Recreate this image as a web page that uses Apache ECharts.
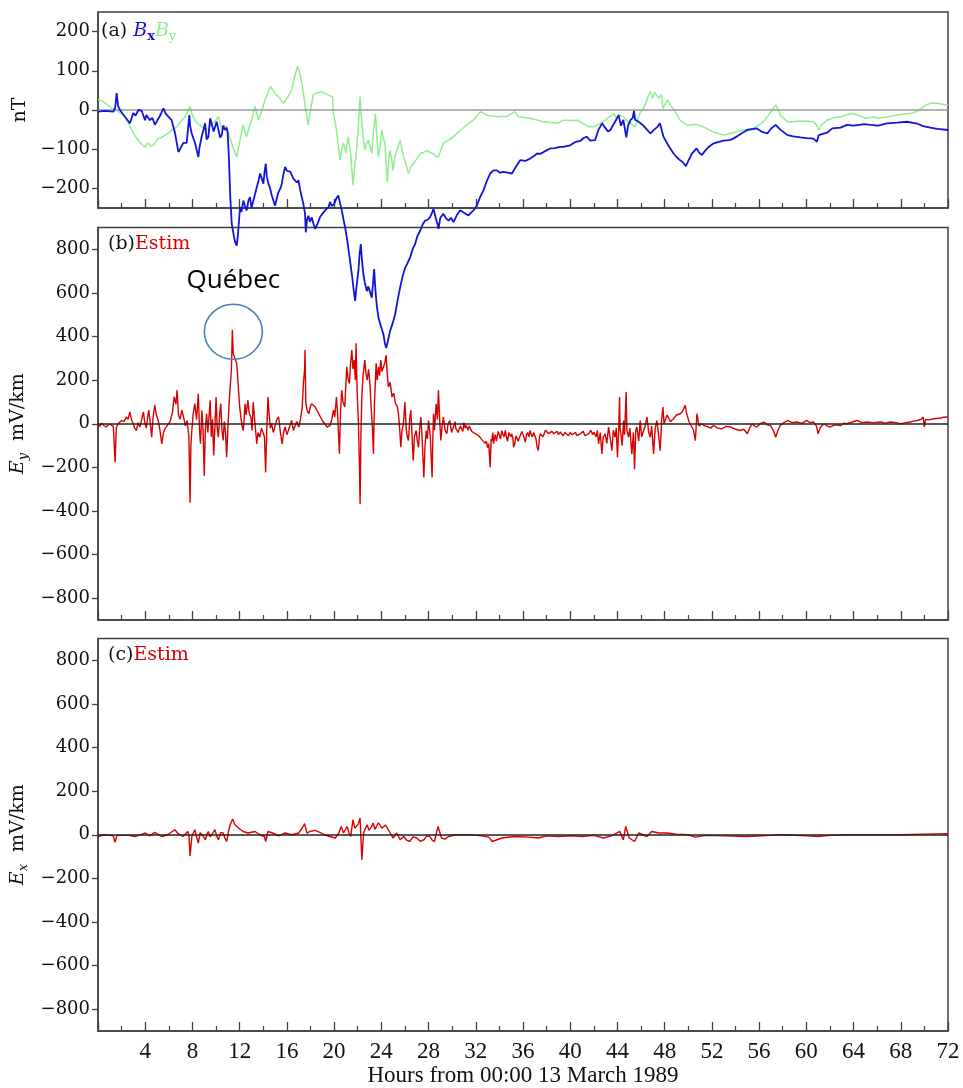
<!DOCTYPE html>
<html>
<head>
<meta charset="utf-8">
<title>Bx, By and estimated geoelectric field, 13-15 March 1989</title>
<script src="https://cdn.jsdelivr.net/npm/echarts@6/dist/echarts.min.js"></script>
<style>
  html, body { margin: 0; padding: 0; background: #ffffff; }
  #chart { width: 963px; height: 1088px; }
</style>
</head>
<body>
<div id="chart"></div>
<script>
// Hours from 00:00 13 March 1989, with the x axis ticked every 4 h and minor ticks every 2 h
const hourRange = [0, 72];
const fieldTicks = [-200, -100, 0, 100, 200];
const efieldTicks = [-800, -600, -400, -200, 0, 200, 400, 600, 800];

// (a) magnetic field components, nT  [hour, value]
const bxField = [
  [0,-4],[0.6,-2],[1.3,-4],[1.45,5],[1.58,43],[1.7,10],[1.86,0],[2.2,-14],[2.7,-34],[2.99,-8],[3.2,-14],[3.42,0],[3.7,-2],[3.98,-26],[4.1,-13],[4.4,-26],[4.6,-20],[4.83,-38],[5.05,-25],[5.25,-15],[5.54,4],[5.75,-10],[5.96,-17],[6.24,-26],[6.53,-60],[6.81,-107],[6.95,-100],[7.23,-84],[7.51,-84],[7.74,-13],[7.8,-40],[7.94,-60],[8.22,-84],[8.5,-120],[8.6,-95],[8.78,-68],[8.93,-51],[9.07,-34],[9.2,-75],[9.35,-68],[9.5,-21],[9.63,-26],[9.8,-55],[9.92,-60],[10.05,-30],[10.2,-34],[10.35,-70],[10.48,-64],[10.6,-40],[10.76,-51],[10.9,-45],[10.99,-60],
  [11.1,-130],[11.2,-220],[11.33,-290],[11.5,-320],[11.6,-335],[11.75,-346],[11.85,-320],[11.95,-280],[12.03,-248],[12.15,-260],[12.31,-231],[12.45,-245],[12.6,-256],[12.75,-230],[12.88,-222],[13.0,-250],[13.16,-245],[13.3,-215],[13.45,-197],[13.6,-180],[13.73,-162],[13.87,-175],[14.01,-188],[14.1,-160],[14.21,-137],[14.3,-170],[14.44,-188],[14.58,-200],[14.72,-218],[14.85,-230],[15.0,-244],[15.15,-225],[15.28,-210],[15.45,-200],[15.57,-188],[15.7,-165],[15.85,-145],[16.0,-155],[16.13,-150],[16.3,-158],[16.41,-162],[16.55,-175],[16.69,-170],[16.85,-185],[16.98,-179],[17.1,-200],[17.26,-222],[17.4,-240],[17.54,-265],[17.6,-312],[17.7,-280],[17.82,-270],[17.95,-285],[18.11,-274],[18.25,-290],[18.39,-303],[18.6,-290],[18.81,-273],[19.0,-265],[19.24,-256],[19.52,-248],[19.66,-235],[19.8,-245],[20.0,-240],[20.2,-225],[20.35,-218],[20.51,-214],[20.65,-256],[20.8,-280],[20.93,-299],
  [21.1,-330],[21.35,-385],[21.55,-430],[21.7,-470],[21.78,-487],[21.9,-450],[22.06,-410],[22.15,-370],[22.26,-342],[22.35,-380],[22.48,-419],[22.6,-440],[22.77,-462],[22.9,-450],[23.05,-455],[23.19,-479],[23.3,-440],[23.39,-406],[23.5,-460],[23.62,-500],[23.76,-530],[23.9,-545],[24.05,-560],[24.18,-573],[24.3,-595],[24.41,-607],[24.55,-590],[24.74,-564],[24.95,-545],[25.17,-521],[25.35,-490],[25.59,-453],[25.8,-425],[26.02,-402],[26.2,-392],[26.44,-376],[26.65,-355],[26.86,-342],[27.05,-322],[27.29,-308],[27.5,-292],[27.71,-282],[27.9,-280],[28.13,-273],[28.3,-262],[28.42,-252],[28.6,-275],[28.75,-290],[28.84,-303],[29.0,-275],[29.26,-265],[29.45,-275],[29.69,-282],[29.9,-275],[30.11,-286],[30.4,-268],[30.68,-256],[31.0,-262],[31.38,-269],[31.6,-262],[31.81,-256],[32.09,-244],[32.37,-222],[32.65,-205],[32.95,-180],[33.22,-162],[33.5,-154],[33.78,-154],[34.05,-160],[34.35,-158],[34.7,-160],[35.06,-162],[35.3,-150],[35.48,-141],[35.76,-128],[35.9,-128],[36.2,-130],[36.6,-124],[36.9,-118],[37.2,-111],[37.45,-112],[37.7,-108],[38.0,-103],[38.3,-98],[38.7,-97],[39.15,-94],[39.4,-94],[39.7,-92],[40.0,-90],[40.4,-82],[40.85,-79],
  [41.1,-72],[41.4,-68],[41.7,-78],[42.1,-77],[42.4,-50],[42.7,-34],[42.95,-45],[43.2,-55],[43.4,-51],[43.6,-40],[43.8,-30],[44.1,-13],[44.3,-40],[44.5,-25],[44.75,-70],[44.9,-40],[45.1,-26],[45.3,-20],[45.4,-2],[45.5,-25],[45.8,-30],[46.2,-40],[46.5,-50],[46.8,-60],[47.1,-50],[47.4,-43],[47.6,-34],[47.9,-68],[48.3,-90],[48.75,-111],[49.0,-120],[49.3,-128],[49.5,-132],[49.8,-143],[50.0,-130],[50.3,-112],[50.7,-98],[50.9,-108],[51.15,-115],[51.4,-105],[51.7,-95],[52.1,-86],[52.5,-82],[53.0,-78],[53.5,-77],[53.8,-73],[54.2,-66],[54.5,-60],[55.0,-51],[55.4,-49],[55.8,-47],[56.2,-55],[56.7,-60],[57.0,-48],[57.4,-38],[57.8,-50],[58.4,-64],[58.9,-67],[59.5,-70],[60.0,-72],[60.6,-73],[60.9,-81],[61.05,-64],[61.2,-60],[61.75,-58],[62.2,-47],[62.9,-45],[63.45,-38],[64.0,-40],[64.9,-36],[65.4,-38],[66.1,-40],[66.8,-34],[67.7,-32],[68.5,-30],[69.4,-35],[69.9,-41],[70.5,-45],[71.1,-48],[72,-51]
];

const byField = [
  [0,27],[0.5,20],[1.02,8],[1.4,2],[1.72,-4],[2.0,-10],[2.29,-17],[2.6,-35],[2.85,-51],[3.1,-65],[3.42,-77],[3.7,-88],[3.98,-94],[4.1,-88],[4.27,-85],[4.45,-92],[4.69,-90],[4.9,-80],[5.11,-73],[5.4,-70],[5.68,-64],[5.95,-60],[6.24,-51],[6.6,-45],[7.09,-26],[7.3,-20],[7.5,-10],[7.8,9],[7.95,-10],[8.22,-26],[8.5,-35],[8.78,-43],[9.05,-46],[9.35,-51],[9.6,-35],[9.9,-30],[10.2,-17],[10.35,-35],[10.48,-47],[10.7,-40],[10.9,-43],[11.1,-65],[11.33,-85],[11.55,-105],[11.75,-120],[11.9,-95],[12.03,-77],[12.2,-50],[12.31,-38],[12.45,-55],[12.6,-68],[12.75,-50],[12.9,-35],[13.1,-15],[13.3,9],[13.45,-10],[13.6,-26],[13.75,-12],[13.9,0],[14.15,26],[14.4,45],[14.6,60],[14.8,52],[15.0,43],[15.2,36],[15.4,30],[15.7,17],[15.9,25],[16.1,34],[16.4,51],[16.55,70],[16.7,90],[16.9,111],[17.1,94],[17.25,70],[17.4,43],[17.55,10],[17.7,-17],[17.8,-38],[17.95,-10],[18.1,17],[18.25,40],[18.4,43],[18.7,45],[18.95,47],[19.2,42],[19.5,38],[19.66,38],[19.86,34],[19.94,-9],[20.1,-34],[20.2,-51],[20.35,-90],[20.5,-128],[20.65,-100],[20.8,-85],[21.0,-110],[21.2,-68],[21.4,-111],[21.6,-192],[21.75,-140],[21.9,-103],[22.05,-40],[22.2,34],[22.3,-20],[22.4,-51],[22.6,-103],[22.75,-85],[22.9,-77],[23.05,-95],[23.2,-111],[23.35,-50],[23.5,-9],[23.62,-70],[23.76,-120],[23.9,-90],[24.04,-51],[24.15,-70],[24.3,-85],[24.5,-184],[24.62,-130],[24.74,-103],[24.88,-125],[25.0,-154],[25.15,-120],[25.3,-103],[25.45,-90],[25.6,-77],[25.75,-100],[25.9,-120],[26.1,-140],[26.3,-162],[26.5,-145],[26.7,-137],[27.0,-125],[27.3,-111],[27.6,-108],[27.85,-103],[28.1,-108],[28.4,-111],[28.6,-118],[28.84,-120],[29.05,-100],[29.26,-85],[29.5,-80],[29.7,-77],[30.1,-68],[30.4,-60],[30.7,-51],[31.0,-44],[31.25,-38],[31.5,-32],[31.8,-26],[32.1,-15],[32.4,-4],[32.65,-8],[32.9,-13],[33.3,-15],[33.8,-17],[34.2,-16],[34.6,-17],[35.0,-10],[35.3,-4],[35.6,-17],[36.1,-19],[36.6,-21],[37.1,-25],[37.7,-30],[38.3,-32],[38.9,-34],[39.4,-26],[40.0,-27],[40.6,-26],
  [41.1,-35],[41.55,-43],[42.0,-43],[42.4,-36],[42.8,-30],[43.2,-20],[43.7,-9],[43.9,-20],[44.1,-12],[44.5,-17],[44.9,-30],[45.2,-35],[45.5,-43],[45.7,-25],[45.9,-9],[46.2,5],[46.4,17],[46.6,35],[46.8,47],[47.0,30],[47.15,45],[47.3,43],[47.5,30],[47.7,40],[47.85,4],[48.05,15],[48.25,26],[48.5,12],[48.8,0],[49.05,-12],[49.3,-26],[49.6,-32],[49.9,-38],[50.3,-38],[50.6,-36],[51.0,-40],[51.3,-43],[51.7,-50],[52.15,-56],[52.6,-60],[53.0,-64],[53.4,-61],[53.8,-58],[54.2,-54],[54.7,-51],[55.1,-49],[55.5,-47],[55.9,-40],[56.2,-34],[56.5,-25],[56.8,-13],[57.1,0],[57.4,13],[57.6,2],[57.8,-13],[58.1,-22],[58.4,-30],[58.9,-30],[59.5,-28],[60.1,-29],[60.6,-30],[60.85,-38],[61.05,-51],[61.3,-38],[61.75,-26],[62.3,-20],[62.9,-17],[63.4,-12],[64.0,-9],[64.5,-15],[65.1,-21],[65.6,-18],[66.1,-21],[66.8,-18],[67.7,-13],[68.3,-10],[69.0,-8],[69.5,-2],[69.7,4],[70.1,12],[70.5,17],[71.1,17],[71.6,14],[72,13]
];

// (b) estimated Ey, mV/km  [hour, value]
const eyEstim = [
  [0,5],[0.15,-12],[0.3,2],[0.5,-8],[0.7,-15],[0.9,-2],[1.1,-5],[1.3,-12],[1.45,-177],[1.55,-20],[1.7,0],[1.85,8],[2.0,15],[2.2,10],[2.4,31],[2.55,20],[2.7,54],[2.85,15],[3.0,0],[3.1,-20],[3.25,-31],[3.4,5],[3.55,-15],[3.7,20],[3.85,54],[3.95,10],[4.1,-20],[4.2,30],[4.3,62],[4.42,5],[4.55,-62],[4.65,20],[4.8,85],[4.95,40],[5.1,15],[5.25,-30],[5.4,-92],[5.55,-40],[5.7,-20],[5.9,-5],[6.1,10],[6.3,50],[6.45,123],[6.6,90],[6.7,154],[6.82,40],[6.95,20],[7.1,62],[7.25,30],[7.4,-10],[7.55,15],[7.7,-60],[7.8,-362],[7.87,-100],[7.95,-30],[8.05,40],[8.2,92],[8.35,20],[8.5,138],[8.6,-30],[8.68,-92],[8.8,62],[8.9,-30],[9.0,-238],[9.1,-20],[9.2,46],[9.3,-40],[9.4,30],[9.5,108],[9.6,-60],[9.7,20],[9.8,-146],[9.9,-20],[10.0,123],[10.1,-20],[10.2,-62],[10.3,40],[10.4,92],[10.5,-30],[10.6,-77],[10.7,10],[10.8,-40],[10.9,-154],[11.0,-20],[11.1,90],[11.2,169],[11.3,250],[11.38,431],[11.46,320],[11.55,308],[11.65,290],[11.75,277],[11.83,220],[11.9,154],[12.0,80],[12.1,31],[12.2,-10],[12.3,-31],[12.38,20],[12.45,92],[12.55,40],[12.7,108],[12.8,50],[12.95,31],[13.05,-30],[13.15,100],[13.3,0],[13.45,-92],[13.55,-40],[13.7,-62],[13.85,-20],[14.0,-15],[14.1,-60],[14.2,-223],[14.3,-20],[14.4,123],[14.5,40],[14.6,-20],[14.7,0],[14.85,-40],[15.0,-31],[15.15,20],[15.3,31],[15.45,-40],[15.6,-92],[15.72,-40],[15.85,-15],[16.0,-50],[16.1,-46],[16.25,-10],[16.4,15],[16.55,-30],[16.7,-31],[16.85,10],[17.0,-15],[17.15,20],[17.3,77],[17.4,185],[17.5,250],[17.54,338],[17.6,100],[17.7,62],[17.85,46],[18.0,80],[18.1,92],[18.25,88],[18.4,77],[18.55,60],[18.7,46],[18.85,30],[19.0,15],[19.2,0],[19.4,-15],[19.66,-8],[19.8,20],[19.95,62],[20.05,30],[20.2,123],[20.3,40],[20.45,-138],[20.55,60],[20.65,154],[20.75,100],[20.9,77],
  [21.0,180],[21.07,261],[21.2,200],[21.3,185],[21.4,280],[21.5,338],[21.6,250],[21.7,292],[21.8,200],[21.86,369],[21.95,150],[22.06,0],[22.15,-200],[22.2,-369],[22.27,-50],[22.35,123],[22.45,220],[22.6,292],[22.7,230],[22.8,200],[22.92,250],[23.05,169],[23.15,60],[23.25,-20],[23.33,-138],[23.42,100],[23.56,277],[23.65,200],[23.76,261],[23.85,220],[23.95,292],[24.05,240],[24.18,231],[24.3,280],[24.4,315],[24.5,230],[24.6,169],[24.75,190],[24.9,123],[25.05,140],[25.2,92],[25.35,80],[25.45,46],[25.55,-20],[25.65,-108],[25.75,-30],[25.87,0],[26.0,100],[26.1,-20],[26.2,-60],[26.3,-77],[26.4,20],[26.5,62],[26.6,-50],[26.7,-169],[26.8,-60],[26.95,-31],[27.05,-80],[27.15,-108],[27.25,-20],[27.35,31],[27.45,-60],[27.6,-246],[27.7,-100],[27.8,-31],[27.9,-70],[28.0,15],[28.15,-60],[28.3,-246],[28.36,-80],[28.42,46],[28.5,-30],[28.64,92],[28.75,20],[28.84,154],[28.95,10],[29.04,-77],[29.15,-10],[29.26,31],[29.4,-30],[29.55,-46],[29.65,0],[29.8,15],[29.95,-40],
  [30.1,-31],[30.2,0],[30.25,10],[30.3,-20],[30.4,-15],[30.5,-40],[30.6,-45],[30.7,-10],[30.8,-23],[30.9,-35],[31.0,5],[31.1,-20],[31.2,-8],[31.35,-30],[31.45,-10],[31.5,-15],[31.65,-35],[31.8,-30],[31.95,-45],[32.1,-46],[32.25,-55],[32.4,-60],[32.55,-75],[32.7,-69],[32.8,-90],[32.9,-80],[33.0,-110],[33.1,-92],[33.22,-200],[33.3,-70],[33.35,-80],[33.45,-40],[33.5,-92],[33.6,-60],[33.65,-50],[33.75,-80],[33.8,-62],[33.9,-35],[34.0,-40],[34.1,-70],[34.2,-31],[34.3,-50],[34.4,-60],[34.5,-30],[34.6,-62],[34.7,-80],[34.8,-40],[34.95,-60],[35.05,-46],[35.15,-70],[35.2,-108],[35.3,-92],[35.4,-55],[35.5,-46],[35.6,-80],[35.65,-70],[35.8,-62],[35.9,-35],[36.0,-40],[36.1,-65],[36.2,-85],[36.3,-50],[36.4,-40],[36.5,-60],[36.6,-31],[36.7,-50],[36.8,-60],[36.9,-40],[37.0,-45],[37.1,-70],[37.2,-108],[37.3,-123],[37.4,-60],[37.45,-46],[37.6,-38],[37.7,-60],[37.8,-55],[37.9,-30],[38.0,-23],[38.15,-45],[38.3,-50],[38.45,-35],[38.6,-46],[38.75,-55],[38.9,-35],[39.0,-50],[39.15,-38],[39.3,-45],[39.4,-55],[39.55,-40],[39.7,-46],[39.85,-55],[40.0,-40],[40.15,-50],[40.3,-54],[40.45,-40],[40.56,-54],[40.7,-60],[40.85,-46],
  [41.1,-35],[41.25,-55],[41.4,-50],[41.55,-46],[41.75,-30],[41.9,-50],[42.0,-38],[42.2,-60],[42.3,-30],[42.4,-92],[42.55,-40],[42.68,-138],[42.8,-60],[42.96,-46],[43.1,-90],[43.25,-15],[43.4,-70],[43.53,-123],[43.65,-30],[43.81,-62],[43.9,-20],[44.0,-154],[44.1,-40],[44.18,123],[44.22,-20],[44.29,-46],[44.4,-100],[44.52,15],[44.6,-50],[44.74,146],[44.8,-30],[44.94,-62],[45.05,-20],[45.22,-138],[45.35,-40],[45.45,-208],[45.55,-30],[45.65,-15],[45.8,-80],[45.93,15],[46.05,-60],[46.21,-62],[46.35,-10],[46.5,31],[46.65,-40],[46.78,-62],[46.9,-10],[47.06,-138],[47.2,-20],[47.34,15],[47.5,-60],[47.62,-123],[47.75,20],[47.85,77],[47.95,0],[48.05,15],[48.2,40],[48.33,31],[48.5,10],[48.75,23],[49.0,40],[49.32,46],[49.5,55],[49.74,85],[49.85,50],[50.03,15],[50.15,0],[50.3,-15],[50.45,-30],[50.6,-77],[50.73,46],[50.9,-10],[51.15,0],[51.4,-10],[51.72,-15],[51.9,-20],[52.14,-8],[52.5,-20],[52.85,-23],[53.2,-12],[53.6,-15],[54.0,-25],[54.4,-31],[54.7,-25],[55.0,-46],[55.2,-20],[55.4,0],[55.6,-10],[55.8,-15],[56.1,0],[56.4,8],[56.7,-5],[56.95,-8],[57.2,-30],[57.4,-62],[57.6,-30],[57.8,-8],[58.1,5],[58.4,15],[58.8,5],[59.2,8],[59.6,2],[60.05,15],[60.3,5],[60.6,8],[60.85,-10],[61.0,-46],[61.2,-15],[61.5,0],[61.75,-10],[62.0,-15],[62.4,-5],[62.9,-8],[63.2,3],[63.45,0],[63.9,8],[64.3,15],[64.7,5],[65.1,8],[65.7,5],[66.3,8],[66.7,3],[67.1,8],[67.6,5],[68.0,0],[68.4,5],[68.8,8],[69.1,12],[69.4,15],[69.7,20],[69.9,31],[69.99,-15],[70.1,20],[70.4,18],[70.8,23],[71.3,25],[71.6,30],[72,31]
];

// (c) estimated Ex, mV/km  [hour, value]
const exEstim = [
  [0,-8],[0.5,0],[1.0,-3],[1.3,-5],[1.45,-35],[1.6,-3],[2.0,-3],[2.6,-3],[3.1,-8],[3.5,-2],[4.0,8],[4.4,-5],[4.8,11],[5.4,-8],[5.9,0],[6.5,23],[6.8,5],[7.2,-8],[7.6,15],[7.7,0],[7.8,-97],[7.95,-8],[8.2,23],[8.35,-10],[8.5,-38],[8.65,10],[8.8,15],[8.95,-10],[9.1,-23],[9.25,5],[9.35,15],[9.5,-10],[9.6,-15],[9.75,10],[9.9,23],[10.05,-5],[10.2,-23],[10.4,10],[10.6,8],[10.75,-15],[10.9,-31],[11.05,15],[11.2,46],[11.4,72],[11.6,46],[11.9,31],[12.3,15],[12.7,8],[13.3,15],[13.7,0],[14.1,-8],[14.2,-31],[14.4,15],[14.8,8],[15.3,-5],[15.85,8],[16.4,0],[17.0,8],[17.3,31],[17.5,51],[17.7,8],[17.96,15],[18.4,20],[18.8,11],[19.2,0],[19.6,-8],[20.1,-15],[20.4,8],[20.6,38],[20.8,8],[21.1,38],[21.25,10],[21.4,-8],[21.6,69],[21.75,30],[21.9,23],[22.05,50],[22.2,77],[22.35,-115],[22.5,8],[22.65,30],[22.8,46],[22.95,20],[23.05,15],[23.2,40],[23.3,54],[23.45,25],[23.6,31],[23.75,55],[23.9,46],[24.05,30],[24.2,23],[24.35,45],[24.5,38],[24.75,8],[25.0,-15],[25.3,8],[25.6,-23],[25.9,-8],[26.15,-25],[26.4,-31],[26.7,-10],[27.0,-15],[27.3,-30],[27.6,-23],[27.85,-5],[28.1,-8],[28.3,-25],[28.5,-31],[28.8,38],[29.1,-15],[29.4,-20],[29.7,-8],[30.3,0],[30.8,0],[31.6,0],[32.5,-5],[33.1,-11],[33.4,-31],[34.2,-15],[35.3,-8],[36.5,-11],[37.3,-15],[38,-5],[39,-8],[40,-5],[41,-8],[42,-3],[42.8,-15],[43.5,-5],[44.2,15],[44.5,-23],[44.7,38],[45.0,-15],[45.45,-31],[45.8,8],[46.5,-8],[46.9,15],[47.5,8],[48.2,8],[49.0,3],[50.0,0],[50.6,-11],[51.5,-3],[53,-5],[55,-8],[57,-3],[58,0],[60,-5],[61,-8],[62,-3],[64,0],[66,0],[68,0],[70,3],[72,5]
];

const SERIF = '"DejaVu Serif", "Liberation Serif", serif';
const TIMES = '"Liberation Serif", "DejaVu Serif", serif';
const FRAME = '#404040';
const BX_COLOR = '#1414d6';
const BY_COLOR = '#90ee90';
const E_COLOR = '#d80000';

const minus = v => String(v).replace('-', '\u2212');

const grids = [
  { left: 98, top: 12, width: 850, height: 196 },
  { left: 98, top: 227.5, width: 850, height: 392.5 },
  { left: 98, top: 638.5, width: 850, height: 393 }
].map(g => Object.assign({ show: true, borderColor: FRAME, borderWidth: 1.5, backgroundColor: 'transparent' }, g));

function hourAxis(i, withLabels) {
  return {
    type: 'value', gridIndex: i, min: hourRange[0], max: hourRange[1], interval: 4,
    axisLine: { show: true, onZero: false, lineStyle: { color: FRAME, width: 1.5 } },
    axisTick: { show: true, inside: true, length: 9, lineStyle: { color: FRAME, width: 1.3 } },
    minorTick: { show: true, splitNumber: 2, length: 5, lineStyle: { color: FRAME, width: 1.2 } },
    splitLine: { show: false }, minorSplitLine: { show: false },
    axisLabel: {
      show: withLabels, margin: 9, color: '#111', fontFamily: TIMES, fontSize: 23,
      formatter: v => (v === 0 ? '' : String(v))
    },
    name: withLabels ? 'Hours from 00:00 13 March 1989' : '',
    nameLocation: 'middle', nameGap: 33,
    nameTextStyle: { color: '#111', fontFamily: TIMES, fontSize: 23 }
  };
}

function valueAxis(i, min, max, ticks, name, rich) {
  return {
    type: 'value', gridIndex: i, min: min, max: max,
    axisLine: { show: true, onZero: false, lineStyle: { color: FRAME, width: 1.5 } },
    axisTick: { show: true, inside: false, length: 6, customValues: ticks, lineStyle: { color: FRAME, width: 1.3 } },
    splitLine: { show: false },
    axisLabel: { customValues: ticks, margin: 8, color: '#111', fontFamily: SERIF, fontSize: 18, formatter: minus },
    name: name, nameLocation: 'middle', nameRotate: 90, nameGap: 66,
    nameTextStyle: { color: '#111', fontFamily: SERIF, fontSize: 19, rich: rich || {} }
  };
}

const nameRich = {
  e: { fontFamily: SERIF, fontStyle: 'italic', fontSize: 19, color: '#111' },
  s: { fontFamily: SERIF, fontStyle: 'italic', fontSize: 13, color: '#111', padding: [10, 0, 0, 0] },
  u: { fontFamily: SERIF, fontSize: 19, color: '#111' }
};

const zeroLine = color => ({
  silent: true, symbol: 'none', animation: false,
  label: { show: false },
  lineStyle: { color: color, width: 1.5, type: 'solid' },
  data: [{ yAxis: 0 }]
});

const titleRich = {
  p: { fontFamily: SERIF, fontWeight: 'normal', fontSize: 19, color: '#111' },
  bx: { fontFamily: SERIF, fontWeight: 'normal', fontStyle: 'italic', fontSize: 19, color: BX_COLOR },
  bxs: { fontFamily: SERIF, fontWeight: 'bold', fontSize: 13, color: BX_COLOR, padding: [10, 0, 0, 0] },
  by: { fontFamily: SERIF, fontWeight: 'normal', fontStyle: 'italic', fontSize: 19, color: BY_COLOR },
  bys: { fontFamily: SERIF, fontWeight: 'normal', fontSize: 13, color: BY_COLOR, padding: [10, 0, 0, 0] },
  r: { fontFamily: SERIF, fontWeight: 'normal', fontSize: 19, color: E_COLOR }
};
const titleStyle = { fontWeight: 'normal', fontFamily: SERIF, fontSize: 19, rich: titleRich };

const chart = echarts.init(document.getElementById('chart'), null, { renderer: 'canvas' });

chart.setOption({
  animation: false,
  backgroundColor: '#ffffff',
  grid: grids,
  title: [
    { left: 101, top: 20, padding: 0, text: '{p|(a) }{bx|B}{bxs|x}{by|B}{bys|y}', textStyle: titleStyle },
    { left: 108, top: 235, padding: 0, text: '{p|(b)}{r|Estim}', textStyle: titleStyle },
    { left: 108, top: 646, padding: 0, text: '{p|(c)}{r|Estim}', textStyle: titleStyle }
  ],
  xAxis: [hourAxis(0, false), hourAxis(1, false), hourAxis(2, true)],
  yAxis: [
    valueAxis(0, -250, 250, fieldTicks, 'nT'),
    valueAxis(1, -900, 900, efieldTicks, '{e|E}{s|y}{u|  mV/km}', nameRich),
    valueAxis(2, -900, 900, efieldTicks, '{e|E}{s|x}{u|  mV/km}', nameRich)
  ],
  series: [
    {
      name: 'By', type: 'line', xAxisIndex: 0, yAxisIndex: 0, data: byField,
      symbol: 'none', z: 3, lineStyle: { color: BY_COLOR, width: 1.5 },
      markLine: zeroLine('#9a9a9a')
    },
    {
      name: 'Ey', type: 'line', xAxisIndex: 1, yAxisIndex: 1, data: eyEstim,
      symbol: 'none', z: 3, lineStyle: { color: E_COLOR, width: 1.4 },
      markLine: zeroLine('#222222')
    },
    {
      name: 'Ex', type: 'line', xAxisIndex: 2, yAxisIndex: 2, data: exEstim,
      symbol: 'none', z: 3, lineStyle: { color: E_COLOR, width: 1.4 },
      markLine: zeroLine('#222222')
    },
    {
      // Bx runs well below -250 nT and is drawn through the panel beneath
      name: 'Bx', type: 'line', xAxisIndex: 0, yAxisIndex: 0, data: bxField,
      symbol: 'none', clip: false, z: 6, lineStyle: { color: BX_COLOR, width: 1.8 }
    }
  ]
});

// Ring and label around the largest Ey spike (the Québec blackout)
const quebecPeak = eyEstim.reduce((a, b) => (b[1] > a[1] ? b : a));
const [px, py] = chart.convertToPixel({ xAxisIndex: 1, yAxisIndex: 1 }, quebecPeak);
chart.setOption({
  graphic: [
    {
      type: 'ellipse', z: 20, silent: true,
      shape: { cx: px + 1, cy: py + 2, rx: 29, ry: 27.5 },
      style: { fill: 'none', stroke: '#4a7fbf', lineWidth: 1.6 }
    },
    {
      type: 'text', z: 20, silent: true, x: px + 1, y: py - 36,
      style: {
        text: 'Québec', fill: '#000', font: '26px "Open Sans", "Noto Sans", sans-serif',
        align: 'center', verticalAlign: 'bottom'
      }
    }
  ]
});
</script>
</body>
</html>
